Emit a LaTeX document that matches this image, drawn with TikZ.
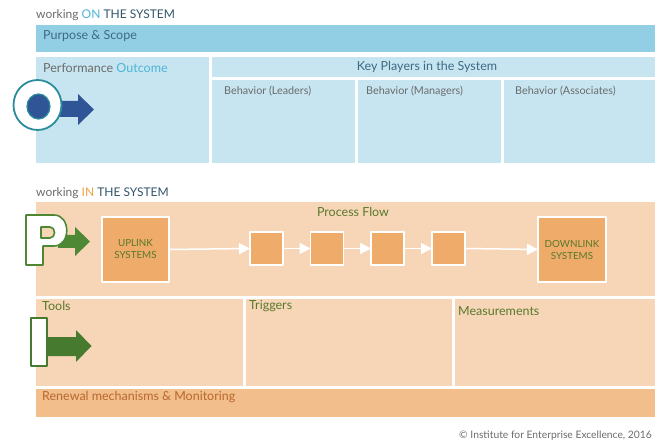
\documentclass[tikz,border=0pt]{standalone}
\usepackage{fontspec}
\setmainfont{Lato}
\usetikzlibrary{positioning,arrows.meta}
\definecolor{skyband}{HTML}{93CFE4}
\definecolor{skylight}{HTML}{C6E5F0}
\definecolor{peach}{HTML}{F7D6B7}
\definecolor{apricot}{HTML}{EEAB69}
\definecolor{renewal}{HTML}{F2BE8C}
\definecolor{slate}{HTML}{3E6A84}
\definecolor{greytext}{HTML}{6B6B6B}
\definecolor{cyantext}{HTML}{4DB5D6}
\definecolor{olive}{HTML}{58792C}
\definecolor{rust}{HTML}{B8682E}
\definecolor{ongreen}{HTML}{4E8834}
\definecolor{navyarrow}{HTML}{2F5597}
\definecolor{tealring}{HTML}{2A8C9C}
\definecolor{ambertext}{HTML}{F0A23F}

\begin{document}
\begin{tikzpicture}[x=1pt, y=-1pt, font=\fontsize{12.5}{14}\selectfont, line join=round,
	flowbox/.style={fill=apricot, draw=white, line width=1.6pt, inner sep=0pt, outer sep=0pt, align=center, text=olive, font=\fontsize{9.8}{12}\selectfont},
	flowarrow/.style={draw=white, line width=1.5pt, arrows={-Triangle[length=11pt,width=11pt,fill=white]}},
	panelhead/.style={anchor=west, inner sep=0pt},
	sectionhead/.style={anchor=west, inner sep=0pt, text=greytext, font=\fontsize{12}{13}\selectfont},
	behavior/.style={anchor=west, inner sep=0pt, text=greytext, font=\fontsize{10.8}{12}\selectfont}]
	\useasboundingbox (0,0) rectangle (662,441);
	% working on the system
	\fill[skyband] (36,25) rectangle (655,52);
	\fill[skylight] (36,57) rectangle (209,163);
	\fill[skylight] (212,57) rectangle (655,77);
	\fill[skylight] (212,80) rectangle (355,163);
	\fill[skylight] (358,80) rectangle (501,163);
	\fill[skylight] (504,80) rectangle (655,163);
	\node[sectionhead] (on) at (36,15) {working \textcolor{cyantext}{ON} \textcolor{slate!80!black}{THE SYSTEM}};
	\node[panelhead, text=slate] (purpose) at (43,36) {Purpose \& Scope};
	\node[panelhead, text=greytext] (outcome) at (43,68) {Performance \textcolor{cyantext}{Outcome}};
	\node[text=slate] (players) at (427,67) {Key Players in the System};
	\node[behavior] (leaders) at (224,91) {Behavior (Leaders)};
	\node[behavior] (managers) at (366,91) {Behavior (Managers)};
	\node[behavior] (associates) at (515,91) {Behavior (Associates)};
	% O
	\fill[navyarrow] (55,101) -- (78,101) -- (78,94) -- (94,109.5) -- (78,125) -- (78,117) -- (55,117) -- cycle;
	\draw[tealring, fill=white, line width=1.8pt] (37.5,105) ellipse (24 and 25);
	\draw[tealring, fill=navyarrow, line width=1.2pt] (38.5,106.5) ellipse (11.5 and 12.5);
	% working in the system
	\fill[peach] (36,202) rectangle (655,296);
	\fill[peach] (36,299) rectangle (243,386);
	\fill[peach] (246,299) rectangle (452,386);
	\fill[peach] (455,299) rectangle (655,386);
	\fill[renewal] (36,389) rectangle (655,417);
	\node[sectionhead] (in) at (36,193) {working \textcolor{ambertext}{IN} \textcolor{slate!80!black}{THE SYSTEM}};
	\node[text=olive] (flow) at (353,212) {Process Flow};
	\node[flowbox, minimum width=67pt, minimum height=65pt] (uplink) at (135.5,249.5) {UPLINK\\SYSTEMS};
	\node[flowbox, minimum size=33pt] (s1) at (266.5,248.5) {};
	\node[flowbox, minimum size=33pt] (s2) at (327,248.5) {};
	\node[flowbox, minimum size=33pt] (s3) at (387.5,248.5) {};
	\node[flowbox, minimum size=33pt] (s4) at (448.5,248.5) {};
	\node[flowbox, minimum width=68pt, minimum height=65pt] (downlink) at (572,249.5) {DOWNLINK\\SYSTEMS};
	\draw[flowarrow] (uplink.east) -- (s1.west);
	\draw[flowarrow] (s1.east) -- (s2.west);
	\draw[flowarrow] (s2.east) -- (s3.west);
	\draw[flowarrow] (s3.east) -- (s4.west);
	\draw[flowarrow] (s4.east) -- (downlink.west);
	\node[panelhead, text=olive] (tools) at (42,306) {Tools};
	\node[panelhead, text=olive] (triggers) at (249,306) {Triggers};
	\node[panelhead, text=olive] (measure) at (458,311) {Measurements};
	\node[panelhead, text=rust] (renew) at (42,397) {Renewal mechanisms \& Monitoring};
	% P
	\fill[ongreen] (58,235) -- (75,235) -- (75,227) -- (90,241.5) -- (75,256) -- (75,248) -- (58,248) -- cycle;
	\draw[ongreen, fill=white, even odd rule, line width=1.6pt]
		(26,215) -- (54,215) .. controls (71,215) and (71,246) .. (54,246) -- (43,246) -- (43,265) -- (26,265) -- cycle
		(41,227) -- (50,227) .. controls (56,227) and (56,238) .. (50,238) -- (41,238) -- cycle;
	% I
	\fill[ongreen!90!black] (47,337) -- (76,337) -- (76,330) -- (91.5,346) -- (76,362) -- (76,356) -- (47,356) -- cycle;
	\draw[ongreen!90!black, fill=white, line width=1.6pt] (31,318) rectangle (47,366);
	\node[anchor=east, inner sep=0pt, text=greytext, font=\fontsize{10.3}{11}\selectfont] (copy) at (652,436) {© Institute for Enterprise Excellence, 2016};
\end{tikzpicture}
\end{document}
